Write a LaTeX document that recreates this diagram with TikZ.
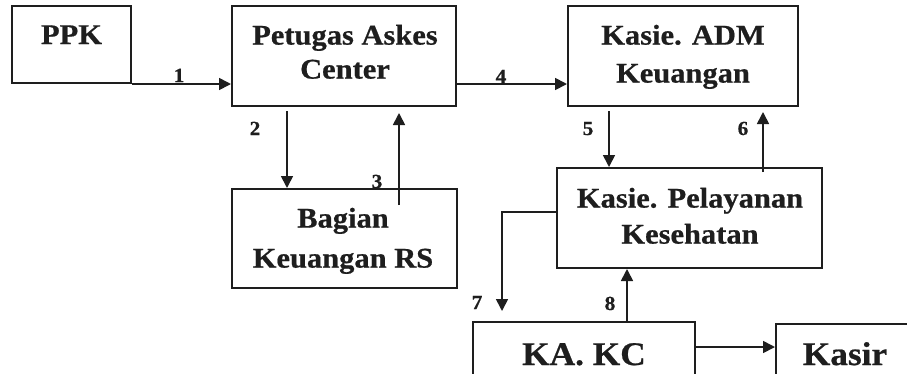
\documentclass[tikz,border=0pt]{standalone}
\usepackage{fontspec}
\setmainfont{Liberation Serif}[FakeStretch=1.07,BoldFeatures={FakeBold=0.6}]
\usetikzlibrary{arrows.meta,calc}
\definecolor{ink}{HTML}{1E1E1E}
\begin{document}
\begin{tikzpicture}[x=1pt,y=-1pt,
  box/.style={draw=ink,line width=2pt,rectangle,inner sep=0pt},
  txt/.style={inner sep=0pt,text=ink,align=center,font=\bfseries\fontsize{28.5}{37}\selectfont},
  bigtxt/.style={inner sep=0pt,text=ink,font=\bfseries\fontsize{33}{36}\selectfont},
  num/.style={inner sep=0pt,text=ink,anchor=base,font=\bfseries\fontsize{20}{22}\selectfont},
  arr/.style={draw=ink,line width=1.7pt,-{Triangle[length=12pt,width=12pt]}}]
\useasboundingbox (0,0) rectangle (907,373);
\fill[white] (0,0) rectangle (907,373);
\clip (0,0) rectangle (907,373);
% boxes
\node[box,minimum width=119pt,minimum height=77pt] (ppk) at (71.5,44.5) {};
\node[box,minimum width=224pt,minimum height=100pt] (petugas) at (344,56) {};
\node[box,minimum width=230pt,minimum height=100pt] (adm) at (683,56) {};
\node[box,minimum width=225pt,minimum height=99pt] (bagian) at (344.5,238.5) {};
\node[box,minimum width=265pt,minimum height=100pt] (pelayanan) at (689.5,218) {};
\node[box,minimum width=222pt,minimum height=98pt] (kakc) at (584,371) {};
\node[box,minimum width=184pt,minimum height=96pt] (kasir) at (868,372) {};
% texts
\node[txt,anchor=base] (tppk) at (71.5,44) {PPK};
\node[txt,anchor=north,font=\bfseries\fontsize{28.5}{34}\selectfont] (tpetugas) at (345,24.6) {Petugas Askes\\Center};
\node[txt,anchor=north,font=\bfseries\fontsize{28.5}{38}\selectfont] (tadm) at (683,24.6) {Kasie. ADM\\Keuangan};
\node[txt,anchor=north,font=\bfseries\fontsize{28.5}{40}\selectfont] (tbagian) at (343,207.6) {Bagian\\Keuangan RS};
\node[txt,anchor=north,font=\bfseries\fontsize{28.5}{36}\selectfont] (tpelayanan) at (690,187.6) {Kasie. Pelayanan\\Kesehatan};
\node[bigtxt,anchor=base] (tkakc) at (584,365) {KA. KC};
\node[bigtxt,anchor=base] (tkasir) at (845,365) {Kasir};
% connectors
\draw[arr] (ppk.south east) -- (ppk.south east -| petugas.west);
\draw[arr] (petugas.east |- ppk.south east) -- (adm.west |- ppk.south east);
\coordinate (a2) at ($(petugas.south west)+(56,4)$);
\draw[arr] (a2) -- (a2 |- bagian.north);
\draw[arr] ($(bagian.north west)+(168,17)$) -- ($(petugas.south west)+(168,6)$);
\coordinate (a5) at ($(adm.south west)+(42,4)$);
\draw[arr] (a5) -- (a5 |- pelayanan.north);
\draw[arr] ($(pelayanan.north west)+(207,5)$) -- ($(adm.south west)+(196,5)$);
\draw[arr] ($(pelayanan.north west)+(0,45)$) -| ($(kakc.north west)+(30,-10)$);
\coordinate (a8) at ($(kakc.north west)+(155,0)$);
\draw[arr] (a8) -- (a8 |- pelayanan.south);
\coordinate (a9) at ($(kakc.north east)+(0,26)$);
\draw[arr] (a9) -- (a9 -| kasir.west);
% labels
\node[num] (n1) at (179,82) {1};
\node[num] (n2) at (255,135) {2};
\node[num] (n3) at (377,188) {3};
\node[num] (n4) at (501,83) {4};
\node[num] (n5) at (588,135) {5};
\node[num] (n6) at (743,135) {6};
\node[num] (n7) at (477,309) {7};
\node[num] (n8) at (610,310) {8};
\end{tikzpicture}
\end{document}
